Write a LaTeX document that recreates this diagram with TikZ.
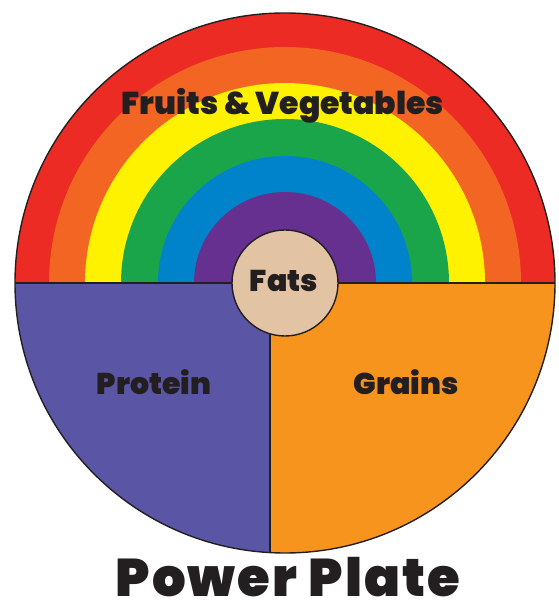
\documentclass[tikz,border=0pt]{standalone}
\usepackage{fontspec}
\setmainfont{Poppins}[BoldFont={Poppins Black}]
\usetikzlibrary{calc}
\definecolor{rbred}{HTML}{EC2B25}
\definecolor{rborange}{HTML}{F26522}
\definecolor{rbyellow}{HTML}{FFF200}
\definecolor{rbgreen}{HTML}{1BA54B}
\definecolor{rbblue}{HTML}{0083CA}
\definecolor{rbpurple}{HTML}{65308F}
\definecolor{protc}{HTML}{5B55A6}
\definecolor{grainc}{HTML}{F6941E}
\definecolor{fatc}{HTML}{E2C3A4}
\definecolor{inkc}{HTML}{231F20}
\begin{document}
\begin{tikzpicture}[x=1pt,y=1pt,
  outl/.style={draw=inkc,line width=1.4pt},
  lbl/.style={text=inkc,font=\bfseries\fontsize{30}{33}\selectfont,inner sep=0pt}]
\useasboundingbox (0,0) rectangle (559,608);
\coordinate (C) at (285,325);
% lower half
\begin{scope}
  \clip (C) circle[radius=270];
  \fill[grainc] (270,0) rectangle (560,325);
  \fill[protc] (0,0) rectangle (270,325);
\end{scope}
% rainbow
\foreach \r/\c in {270/rbred,236/rborange,200/rbyellow,164/rbgreen,127/rbblue,91/rbpurple}{
  \fill[\c] ($(C)+(\r,0)$) arc[start angle=0,end angle=180,radius=\r] -- cycle;
}
% lines
\coordinate (L) at (15,325);
\coordinate (R) at (555,325);
\coordinate (T) at (270,325);
\coordinate (B) at (270,55.4);
\draw[outl] (L) -- (R);
\draw[outl] (T) -- (B);
\draw[outl] (C) circle[radius=270];
% fats
\node[circle,fill=fatc,outl,minimum size=106pt,inner sep=0pt] (fats) at (C) {};
\node[lbl,anchor=base] (fatst) at (284,316) {Fats};
\node[lbl,anchor=base,font=\bfseries\fontsize{31.5}{34}\selectfont] (fv) at (283,493) {Fruits \& Vegetables};
\node[lbl,anchor=base] (prot) at (154,213) {Protein};
\node[lbl,anchor=base] (grain) at (406,213) {Grains};
\node[text=inkc,font=\bfseries\fontsize{53}{58}\selectfont\addfontfeature{LetterSpace=4},inner sep=0pt,anchor=base] (title) at (288,11) {Power Plate};
\end{tikzpicture}
\end{document}
